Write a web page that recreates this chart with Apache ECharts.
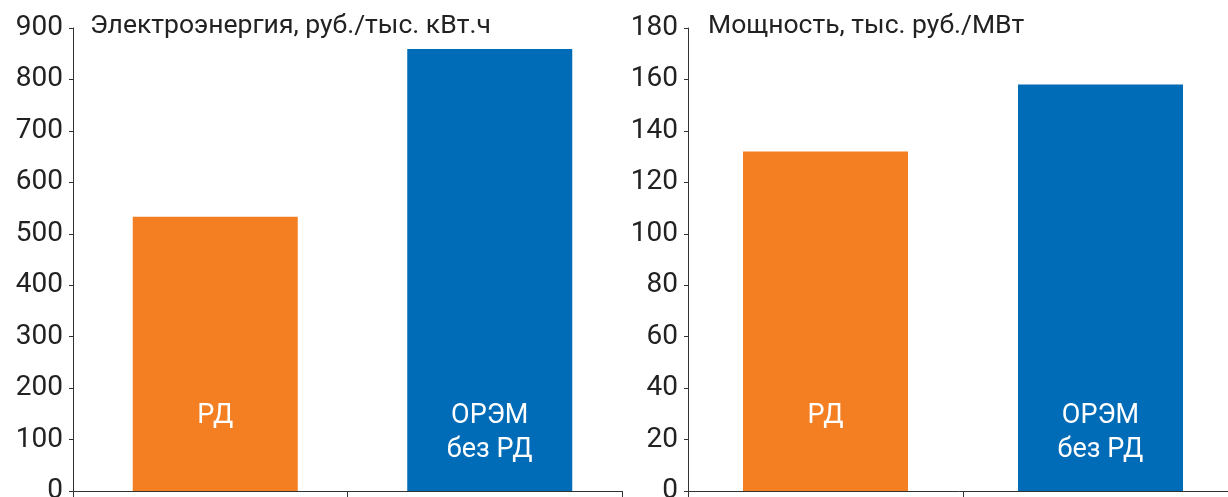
<!DOCTYPE html>
<html>
<head>
<meta charset="utf-8">
<script src="https://cdn.jsdelivr.net/npm/echarts@6/dist/echarts.min.js"></script>
<style>
html,body{margin:0;padding:0;background:#fff;}
#chart{width:1228px;height:497px;}
</style>
</head>
<body>
<div id="chart"></div>
<script>
// категории и значения
var categories = ['РД', 'ОРЭМ\nбез РД'];
var energyValues = [533, 859];   // руб./тыс. кВт.ч
var powerValues = [132, 158];    // тыс. руб./МВт
var energyTitle = 'Электроэнергия, руб./тыс. кВт.ч';
var powerTitle = 'Мощность, тыс. руб./МВт';
var barColors = ['#F47E22', '#006BB6'];

var font = 'Roboto';
var axisColor = '#333';

function yAxis(idx, max, step){
	return {
		type: 'value',
		gridIndex: idx,
		min: 0,
		max: max,
		interval: step,
		axisLine: {show: true, lineStyle: {color: axisColor, width: 1}},
		axisTick: {show: true, length: 4, lineStyle: {color: axisColor}},
		splitLine: {show: false},
		axisLabel: {color: '#222', fontSize: 28, fontFamily: font, margin: 10}
	};
}
function xAxis(idx){
	return {
		type: 'category',
		gridIndex: idx,
		data: categories,
		axisLine: {show: true, lineStyle: {color: axisColor, width: 1}},
		axisTick: {show: true, length: 6, lineStyle: {color: axisColor}},
		axisLabel: {show: false}
	};
}
function bars(idx, values){
	return {
		type: 'bar',
		xAxisIndex: idx,
		yAxisIndex: idx,
		barWidth: 165,
		barGap: '0%',
		data: values.map(function(v, i){
			return {value: v, itemStyle: {color: barColors[i]}};
		}),
		label: {
			show: true,
			position: 'insideBottom',
			distance: 24,
			color: '#fff',
			fontSize: 27,
			lineHeight: 34,
			fontFamily: font,
			formatter: function(p){
				//одна строка - добавляем пустую снизу
				return p.name.indexOf('\n') < 0 ? p.name + '\n ' : p.name;
			}
		}
	};
}
// пустая серия - на левом графике столбцы чуть сдвинуты вправо
var spacer = {
	type: 'bar', xAxisIndex: 0, yAxisIndex: 0,
	barWidth: 10, barGap: '0%', silent: true,
	data: ['-', '-']
};

var titleStyle = {fontSize: 26.5, fontWeight: 'normal', color: '#222', fontFamily: font};

var chart = echarts.init(document.getElementById('chart'));
var option = {
	animation: false,
	title: [
		{text: energyTitle, left: 90, top: 13, padding: 0, textStyle: titleStyle},
		{text: powerTitle, left: 708, top: 13, padding: 0, textStyle: titleStyle}
	],
	grid: [
		{left: 73, width: 549, top: 28, bottom: 6, outerBoundsMode: 'none'},
		{left: 688, width: 550, top: 28, bottom: 6, outerBoundsMode: 'none'}
	],
	xAxis: [xAxis(0), xAxis(1)],
	yAxis: [yAxis(0, 900, 100), yAxis(1, 180, 20)],
	series: [spacer, bars(0, energyValues), bars(1, powerValues)]
};
chart.setOption(option);
</script>
</body>
</html>
